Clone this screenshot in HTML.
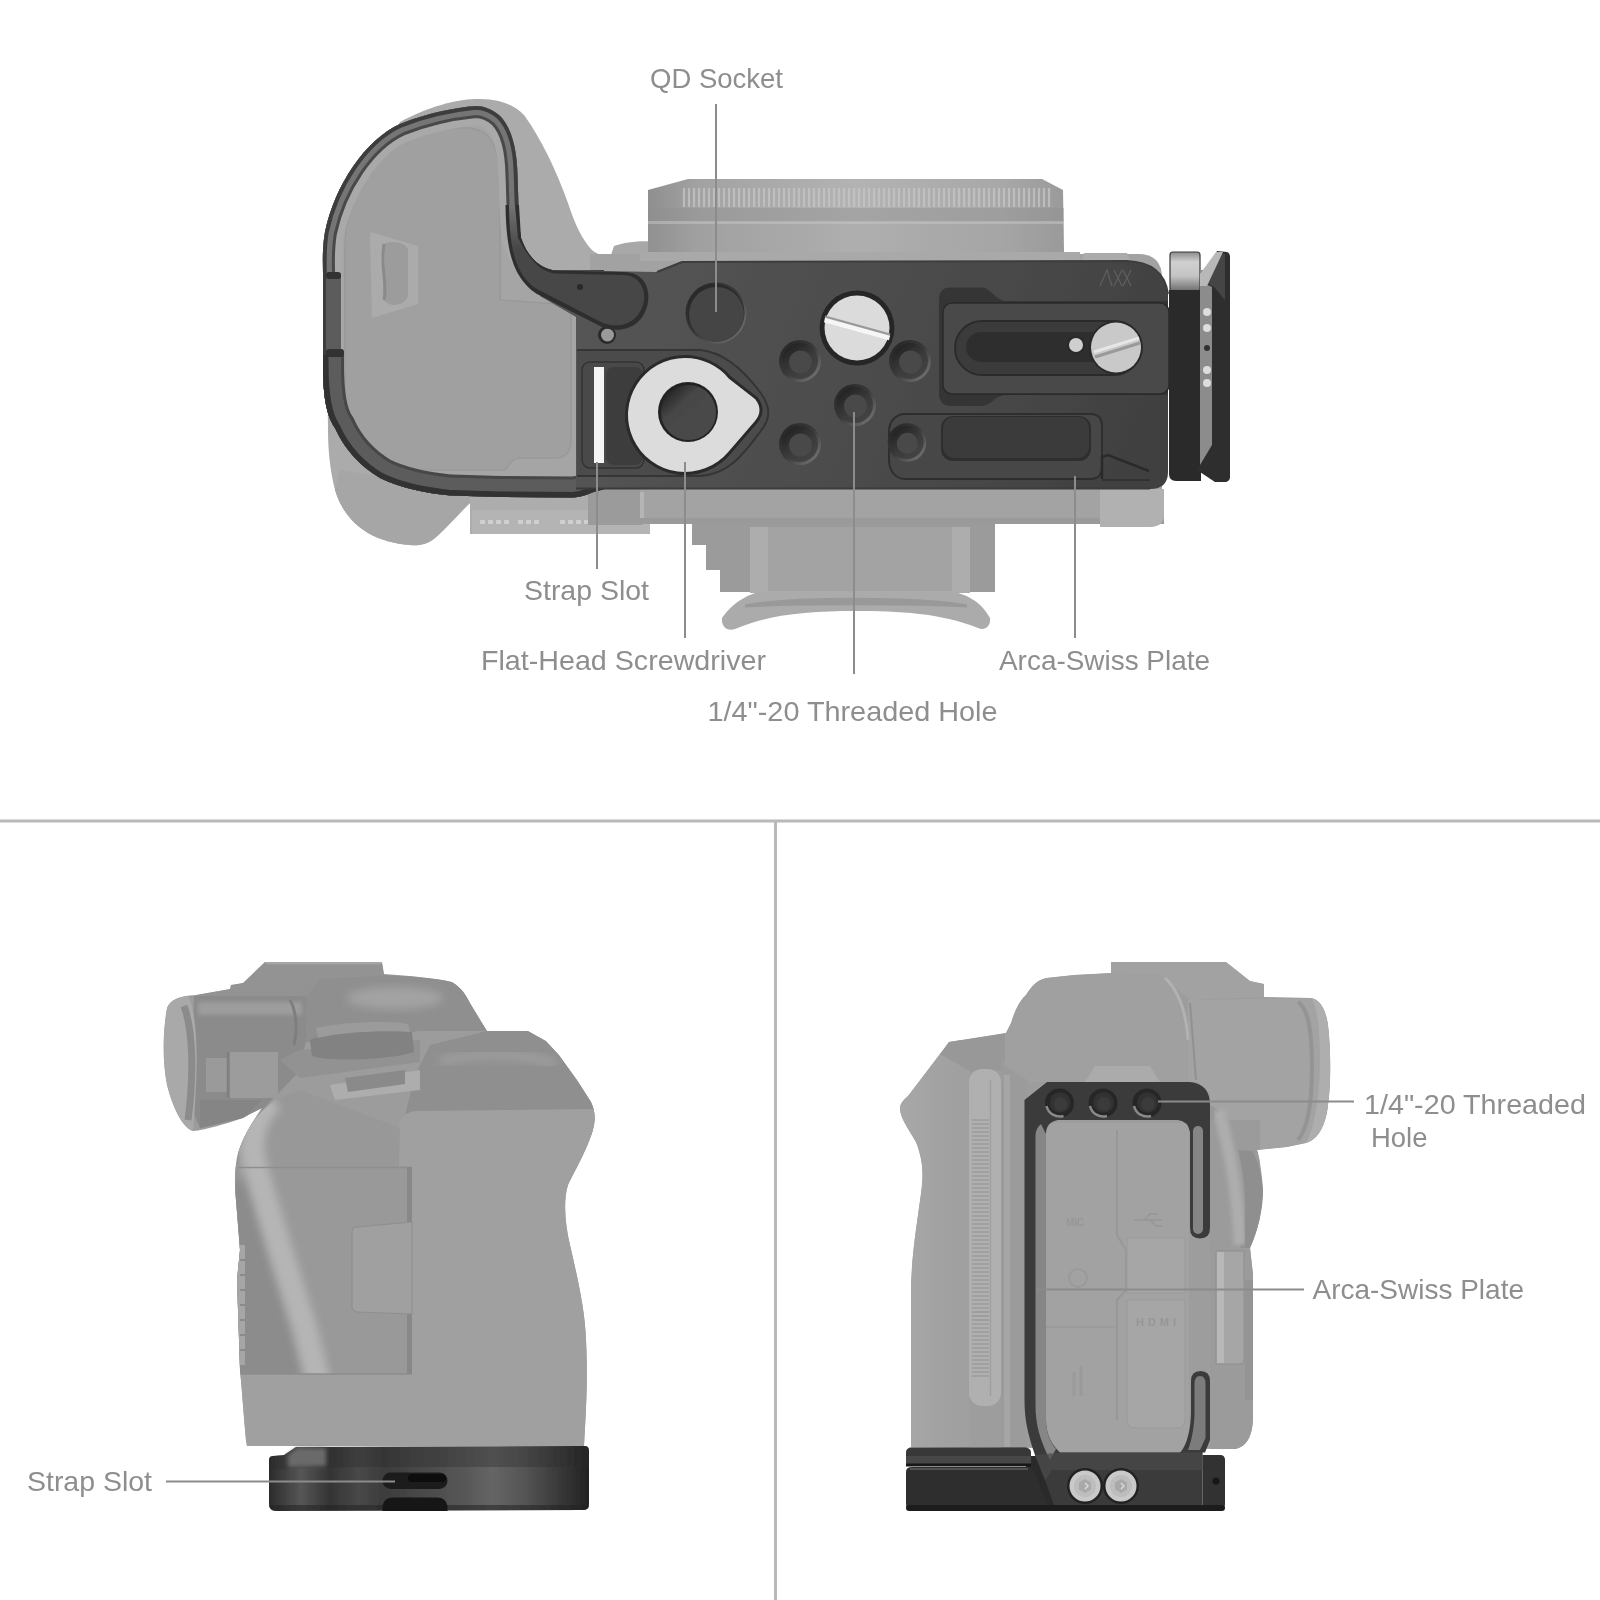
<!DOCTYPE html>
<html lang="en">
<head>
<meta charset="utf-8">
<title>L-Bracket Features</title>
<style>
html,body{margin:0;padding:0;background:#fff}
body{width:1600px;height:1600px;overflow:hidden;position:relative}
svg{display:block;position:absolute;left:0;top:0}
text{font-family:"Liberation Sans",sans-serif;font-size:28px;fill:#8e8e8e}
.ln{stroke:#8c8c8c;stroke-width:2;fill:none}
</style>
</head>
<body>
<svg width="1600" height="1600" viewBox="0 0 1600 1600">
<defs>
<linearGradient id="gLens" x1="0" x2="1" y1="0" y2="0">
<stop offset="0" stop-color="#8f8f8f"/><stop offset="0.12" stop-color="#a2a2a2"/><stop offset="0.5" stop-color="#b3b3b3"/><stop offset="0.85" stop-color="#a8a8a8"/><stop offset="1" stop-color="#9a9a9a"/>
</linearGradient>
<linearGradient id="gPlate" x1="576" x2="1168" y1="261" y2="489" gradientUnits="userSpaceOnUse">
<stop offset="0" stop-color="#555"/><stop offset="0.5" stop-color="#4c4c4c"/><stop offset="1" stop-color="#3f3f3f"/>
</linearGradient>
<radialGradient id="gHole" cx="0.5" cy="0.42" r="0.6">
<stop offset="0" stop-color="#3a3a3a"/><stop offset="0.6" stop-color="#333"/><stop offset="1" stop-color="#222"/>
</radialGradient>
<linearGradient id="gRim" x1="0.15" y1="0.15" x2="0.85" y2="0.85"><stop offset="0" stop-color="#2a2a2a"/><stop offset="0.5" stop-color="#3a3a3a"/><stop offset="1" stop-color="#6c6c6c"/></linearGradient>
<linearGradient id="gCone" x1="0.2" y1="0.1" x2="0.8" y2="0.9"><stop offset="0" stop-color="#242424"/><stop offset="0.55" stop-color="#3a3a3a"/><stop offset="1" stop-color="#444"/></linearGradient>
<linearGradient id="gWh" x1="0.1" y1="0.05" x2="0.7" y2="0.7"><stop offset="0" stop-color="#1e1e1e"/><stop offset="0.45" stop-color="#464646"/><stop offset="1" stop-color="#4a4a4a"/></linearGradient>
<linearGradient id="gSilv" x1="0" y1="0" x2="0" y2="1"><stop offset="0" stop-color="#8c8c8c"/><stop offset="0.25" stop-color="#d0d0d0"/><stop offset="0.6" stop-color="#c4c4c4"/><stop offset="0.85" stop-color="#8a8a8a"/><stop offset="1" stop-color="#6a6a6a"/></linearGradient>
<linearGradient id="gLever" x1="0" y1="205" x2="0" y2="250" gradientUnits="userSpaceOnUse"><stop offset="0" stop-color="#747474"/><stop offset="1" stop-color="#464646"/></linearGradient>
<filter id="soft" x="-5%" y="-5%" width="110%" height="110%"><feGaussianBlur stdDeviation="0.7"/></filter>
<filter id="b2" x="-20%" y="-20%" width="140%" height="140%"><feGaussianBlur stdDeviation="2"/></filter>
<filter id="b4" x="-20%" y="-20%" width="140%" height="140%"><feGaussianBlur stdDeviation="4"/></filter>
<clipPath id="cRing"><path id="pRing" d="M475,106 C455,108 430,112 400,124 C365,140 335,185 325,232 C322,250 323,262 323,275 L323,365 C323,395 326,415 335,428 C345,450 360,466 380,478 C400,488 425,493 451,495.6 L500,497 L573,497.5 C585,497 592,491 604,489.5 L604,270 L554,270.5 C540,268 528,258 521,238 C518.5,225 518.5,200 517.5,175 C517,150 512,128 500,116 C492,109 484,106 475,106 Z"/></clipPath>
</defs>

<!-- ================= DIVIDERS ================= -->
<rect x="0" y="819.5" width="1600" height="3" fill="#b9b9b9"/>
<rect x="774" y="821" width="3" height="779" fill="#b9b9b9"/>

<!-- ================= TOP VIEW ================= -->
<g id="topview" filter="url(#soft)">
<!-- camera grip behind -->
<path d="M400,122 C430,106 455,100 475,99 C500,98 514,105 524,115 C542,140 556,170 568,203 C574,222 582,240 592,250 C598,255 605,257 615,256 L640,256 L640,500 L650,500 L650,534 L472,534 L470,503 C460,512 450,525 435,538 C428,544 420,546 410,545 C395,544 380,540 368,533 C350,522 340,507 335,490 C330,470 328,450 328,430 L326,250 Z" fill="#ababab"/>
<path d="M335,490 C340,507 350,522 368,533 C380,540 395,544 410,545 C420,546 428,544 435,538 C450,525 460,512 470,503 L470,490 L340,470 Z" fill="#a6a6a6"/>
<!-- rear dial bits -->
<rect x="470" y="494" width="180" height="40" fill="#adadad"/>
<rect x="472" y="510" width="178" height="24" fill="#b4b4b4"/>
<path d="M480,522h30m8,0h22m20,0h30m8,0h22" stroke="#cfcfcf" stroke-width="4" stroke-dasharray="5 3"/>
<!-- top bump (mode dial) -->
<path d="M610,258 L614,246 C630,240 655,240 672,244 L676,258 Z" fill="#a8a8a8"/>
<!-- camera body -->
<path d="M590,254 H1138 Q1162,254 1162,278 V524 H590 Z" fill="#a2a2a2"/>
<rect x="588" y="489" width="54" height="36" fill="#9b9b9b"/>
<rect x="640" y="489" width="524" height="35" fill="#a3a3a3"/>
<rect x="640" y="492" width="4" height="30" fill="#b5b5b5"/>
<rect x="640" y="518" width="524" height="6" fill="#9a9a9a"/>
<!-- body right-bottom bits -->
<path d="M1100,489 L1164,489 L1164,515 C1164,522 1160,527 1150,527 L1100,527 Z" fill="#b1b1b1"/>
<path d="M1082,261 L1084,253 L1127,253 L1130,261 Z" fill="#ababab"/>
<!-- lens -->
<path d="M648,252 L648,190 L688,179 L1042,179 L1063,190 L1064,252 Z" fill="url(#gLens)"/>
<rect x="648" y="208" width="416" height="14" fill="#8e8e8e" opacity="0.4"/>
<rect x="648" y="221" width="416" height="3" fill="#c0c0c0" opacity="0.6"/><rect x="648" y="224" width="416" height="28" fill="#999" opacity="0.18"/>
<g stroke="#c6c6c6" stroke-width="2.2" opacity="0.75"><path id="kn" d="M684,188V207M689,188V207M694,188V207M699,188V207M704,188V207M709,188V207M714,188V207M719,188V207M724,188V207M729,188V207M734,188V207M739,188V207M744,188V207M749,188V207M754,188V207M759,188V207M764,188V207M769,188V207M774,188V207M779,188V207"/>
<use href="#kn" x="100"/><use href="#kn" x="200"/><use href="#kn" x="270"/></g>
<rect x="640" y="252" width="440" height="9" fill="#a9a9a9"/>
<!-- viewfinder housing + eyecup -->
<path d="M692,524 L692,545 L706,545 L706,570 L720,570 L720,592 L995,592 L995,524 Z" fill="#9b9b9b"/>
<rect x="750" y="527" width="220" height="66" fill="#a3a3a3"/>
<rect x="750" y="527" width="18" height="66" fill="#adadad"/>
<rect x="952" y="527" width="18" height="66" fill="#adadad"/>
<path d="M722,618 C735,600 750,594 762,591 L950,591 C965,594 980,600 990,618 C991,626 985,631 978,628 C940,613 900,611 855,611 C810,611 770,614 735,629 C727,632 721,626 722,618 Z" fill="#ababab"/>
<path d="M745,606 C790,597 920,597 967,606 C920,603 790,603 745,606 Z" fill="#999" stroke="#999" stroke-width="3"/>

<!-- ring + battery door -->
<use href="#pRing" fill="#a5a5a5"/>
<g clip-path="url(#cRing)">
<!-- door details -->
<path d="M345,250 C345,180 380,132 450,128 L470,128 C492,130 500,150 500,180 L500,300 L571,305 L571,440 C571,452 565,458 555,458 L520,458 C512,458 510,464 505,470 L380,470 C355,465 345,440 345,410 Z" fill="#a0a0a0" stroke="#999" stroke-width="1.5"/>
<path d="M370,232 L418,246 L418,304 L372,318 Z" fill="#ababab"/>
<path d="M384,244 C392,240 406,242 408,250 L408,296 C404,306 390,308 384,300 C380,285 388,270 384,244 Z" fill="#9c9c9c"/>
<path d="M384,244 C380,270 388,285 384,300" stroke="#8a8a8a" stroke-width="3" fill="none"/>
<use href="#pRing" fill="none" stroke="#a9a9a9" stroke-width="38"/><use href="#pRing" fill="none" stroke="#484848" stroke-width="24"/><use href="#pRing" fill="none" stroke="#747474" stroke-width="18"/>
<use href="#pRing" fill="none" stroke="#3c3c3c" stroke-width="7.5"/>
<path d="M323,355 L323,365 C323,395 326,415 335,428 C345,450 360,466 380,478 C400,488 425,493 451,495.6 L500,497 L573,497.5 C585,497 592,491 604,489.5" fill="none" stroke="#474747" stroke-width="42"/>
<path d="M323,355 L323,365 C323,395 326,415 335,428 C345,450 360,466 380,478 C400,488 425,493 451,495.6 L500,497 L573,497.5 C585,497 592,491 604,489.5" fill="none" stroke="#5b5b5b" stroke-width="36"/>
<path d="M323,355 L323,365 C323,395 326,415 335,428 C345,450 360,466 380,478 C400,488 425,493 451,495.6 L500,497 L573,497.5 C585,497 592,491 604,489.5" fill="none" stroke="#303030" stroke-width="11"/>
<rect x="326" y="276" width="15" height="76" fill="#5c5c5c"/>
<rect x="326" y="272" width="15" height="7" rx="3" fill="#303030"/><rect x="326" y="349" width="18" height="8" rx="3" fill="#303030"/>
</g>

<!-- plate -->
<path d="M548,270 L657,272 L682,262 L1127,261 C1150,262 1165,272 1168,294 L1168,472 Q1168,489 1150,489 L576,489 L576,317 L540,296 Z" fill="url(#gPlate)"/>
<path d="M657,272 L682,262 L1127,261 C1150,262 1165,272 1168,294" stroke="#3e3e3e" stroke-width="2" fill="none"/>
<path d="M576,488.5 H1150" stroke="#3a3a3a" stroke-width="2"/>
<!-- washer pocket -->
<path d="M577,350 L700,350 C725,352 745,372 760,392 C772,408 770,420 760,432 C745,452 730,474 700,476 L577,476" fill="#4c4c4c" stroke="#343434" stroke-width="2"/>
<!-- strap slot + recess -->
<rect x="582" y="362" width="62" height="106" rx="8" fill="#484848" stroke="#333" stroke-width="1.5"/>
<rect x="594" y="367" width="10" height="96" fill="#f4f4f4"/>
<rect x="606" y="367" width="37" height="98" rx="8" fill="#3d3d3d"/>
<!-- pin -->
<circle cx="607" cy="335" r="9" fill="#2a2a2a"/><circle cx="607.5" cy="335" r="6.5" fill="#9a9a9a"/>
<!-- lever -->
<path d="M505.5,205 C506,240 510,262 520,277 C526,286 532,291 537,294 L600,326 C612,332 628,331 638,322 C650,310 652,290 642,279 C636,273 630,272 622,272 L554,270.5 C540,268 528,258 521,238 L519,205 Z" fill="#2e2e2e"/>
<path d="M509,205 C509.5,240 513,260 522,274 C528,283 533,287 539,290 L601,322 C612,327 626,327 635,318 C646,307 647,291 639,282 C634,276 628,275 621,275 L554,273.5 C541,271 530,261 518,238 L515,205 Z" fill="url(#gLever)"/>
<circle cx="580" cy="287" r="3" fill="#2a2a2a"/>
<!-- QD socket -->
<circle cx="716" cy="313" r="30.5" fill="url(#gRim)"/><circle cx="716" cy="313" r="28.5" fill="#2c2c2c"/><circle cx="716.5" cy="314.5" r="27.5" fill="#454545"/>
<!-- big screw -->
<circle cx="857" cy="328" r="37.5" fill="#262626"/><circle cx="857" cy="328" r="32.5" fill="#dbdbdb"/>

<path d="M825,317 L890,335" stroke="#9a9a9a" stroke-width="3"/><path d="M824.5,320 L889.5,338" stroke="#f6f6f6" stroke-width="4.6"/>
<!-- small holes -->
<defs>
<g id="hole"><circle cx="0" cy="0" r="21" fill="url(#gRim)"/><circle cx="0" cy="0" r="18" fill="url(#gCone)"/><circle cx="0.5" cy="1" r="11.5" fill="#484848"/></g>
</defs>
<use href="#hole" x="800" y="361"/><use href="#hole" x="910" y="361"/><use href="#hole" x="855" y="405"/><use href="#hole" x="800" y="444"/>
<!-- washer -->
<path d="M685,358 A57,57 0 1 0 728.7,451.6 L755,421 Q764,410 755,399 L728.7,378.4 A57,57 0 0 0 685,358 Z" fill="#dcdcdc" stroke="#2a2a2a" stroke-width="6" paint-order="stroke" stroke-linejoin="round"/>
<circle cx="688" cy="412" r="30" fill="#242424"/><circle cx="688.5" cy="412.5" r="27.5" fill="url(#gWh)"/>

<!-- upper inset (arca slider) -->
<path d="M950,287.5 L982,287.5 C990,288 994,298 1004,301 L1168,301 L1168,395 L1004,395 C994,397 990,406 982,406 L950,406 C943,406 939,401 939,394 L939,299 C939,292 943,287.5 950,287.5 Z" fill="#353535"/>
<rect x="943" y="303" width="226" height="91" rx="9" fill="#494949"/>
<rect x="943" y="303" width="226" height="91" rx="9" fill="none" stroke="#2a2a2a" stroke-width="1.5"/>
<rect x="955" y="321" width="186" height="54" rx="27" fill="#3b3b3b" stroke="#2c2c2c" stroke-width="2"/>
<rect x="966" y="332" width="150" height="30" rx="15" fill="#2f2f2f"/>
<circle cx="1076" cy="345" r="9.5" fill="#2a2a2a"/><circle cx="1076" cy="345" r="7" fill="#cfcfcf"/>
<circle cx="1116" cy="347.5" r="27" fill="#2a2a2a"/><circle cx="1116" cy="347.5" r="25" fill="#c9c9c9"/>
<path d="M1094,352 L1139,338" stroke="#e6e6e6" stroke-width="3"/><path d="M1095,357 L1140,343" stroke="#9a9a9a" stroke-width="3"/>
<!-- lower inset -->
<path d="M905,414 L1090,414 Q1102,414 1102,426 L1102,467 Q1102,479 1090,479 L905,479 C895,479 889,470 889,460 L889,432 C889,422 895,414 905,414 Z" fill="#474747" stroke="#2e2e2e" stroke-width="2"/>
<rect x="941" y="416" width="150" height="45" rx="12" fill="#2d2d2d"/><rect x="943" y="417" width="146" height="41" rx="11" fill="#3a3a3a"/>
<use href="#hole" x="907" y="442.5" transform="translate(907,442.5) scale(0.92) translate(-907,-442.5)"/>
<path d="M1102,479 L1102,457 L1108,455 L1149,471" stroke="#2a2a2a" stroke-width="2.5" fill="none"/>
<path d="M1102,480 H1150" stroke="#333" stroke-width="2"/>
<!-- mark -->
<path d="M1100,286 L1107,270 L1112,286 M1114,270 L1122,286 M1122,270 L1114,286 M1123,270 L1131,286 M1131,270 L1123,286" stroke="#5e5e5e" stroke-width="1.3" fill="none"/>

<!-- side bracket -->
<rect x="1170" y="252" width="30" height="40" rx="3" fill="url(#gSilv)" stroke="#3a3a3a" stroke-width="1.2"/>
<path d="M1169,290 L1201,290 L1201,481 L1176,481 Q1169,481 1169,474 Z" fill="#2c2c2c"/>
<rect x="1200" y="270" width="14" height="200" fill="#8c8c8c"/>
<circle cx="1207" cy="312" r="4" fill="#ddd"/><circle cx="1207" cy="328" r="4" fill="#ddd"/><circle cx="1207" cy="348" r="3" fill="#333"/><circle cx="1207" cy="370" r="4" fill="#ddd"/><circle cx="1207" cy="383" r="4" fill="#ddd"/>
<path d="M1217,251 L1227,252 Q1230,253 1230,257 L1230,477 Q1230,481 1226,482 L1215,482 L1197,470 L1212,445 L1212,287 L1201,282 Z" fill="#2e2e2e"/>
<path d="M1217,253 L1225,254 L1225,300 L1214,287 L1203,281 Z" fill="#454545"/>
<path d="M1216,252 L1223,252 L1207,286 L1200,286 L1200,274 Z" fill="#b8b8b8"/>
<!--TOPVIEW-->
</g>

<!-- ================= BOTTOM LEFT ================= -->
<g id="bl" filter="url(#soft)">
<defs>
<linearGradient id="gBLplate" x1="269" x2="589" y1="0" y2="0" gradientUnits="userSpaceOnUse">
<stop offset="0" stop-color="#2b2b2b"/><stop offset="0.1" stop-color="#565656"/><stop offset="0.19" stop-color="#343434"/><stop offset="0.28" stop-color="#484848"/><stop offset="0.36" stop-color="#3c3c3c"/><stop offset="0.62" stop-color="#585858"/><stop offset="0.7" stop-color="#656565"/><stop offset="0.8" stop-color="#545454"/><stop offset="0.93" stop-color="#333"/><stop offset="1" stop-color="#222"/>
</linearGradient>
<linearGradient id="gBLbody" x1="234" x2="420" y1="0" y2="0" gradientUnits="userSpaceOnUse">
<stop offset="0" stop-color="#8c8c8c"/><stop offset="0.1" stop-color="#9d9d9d"/><stop offset="0.2" stop-color="#b1b1b1"/><stop offset="0.3" stop-color="#a6a6a6"/><stop offset="0.5" stop-color="#999"/><stop offset="1" stop-color="#979797"/>
</linearGradient>
<clipPath id="cBL"><path id="pBL" d="M265,962 L382,962 L384,974 C410,976 435,978 452,982 C462,988 466,995 470,1003 L487,1031 L528,1031 L546,1041 L559,1055 L577,1080 L591,1102 Q596,1112 594,1125 C590,1145 575,1170 568,1185 C563,1200 565,1225 570,1245 C578,1280 585,1310 586,1340 C588,1380 586,1410 584,1446 L247,1446 L246,1440 C244,1420 242,1390 240,1370 L237,1280 L240,1250 L236,1200 C234,1180 235,1165 238,1153 C242,1140 250,1125 262,1108 L250,1114 L243,1118 C225,1124 205,1130 193,1131 C182,1128 172,1105 167,1085 C162,1060 163,1030 167,1008 C170,1000 178,996 196,995 L230,989 L231,985 L243,983 Z"/></clipPath>
</defs>
<use href="#pBL" fill="#9c9c9c"/>
<g clip-path="url(#cBL)">
<!-- viewfinder block -->
<path d="M243,983 L265,962 L382,962 L384,975 L320,979 L306,996 L196,996 L196,995 L230,989 L231,985 Z" fill="#939393"/>
<path d="M266,963 H382" stroke="#a6a6a6" stroke-width="2.5"/>
<path d="M306,996 L320,979 L384,975 C410,976 435,978 452,982 C462,988 466,995 470,1003 L487,1031 L420,1031 L330,1042 L306,1042 Z" fill="#8f8f8f"/>
<ellipse cx="395" cy="998" rx="48" ry="11" fill="#a3a3a3" filter="url(#b4)"/>
<path d="M194,996 L306,996 L306,1042 L296,1075 L262,1110 L243,1118 L200,1128 L192,1110 Z" fill="#8b8b8b"/>
<rect x="198" y="1002" width="104" height="13" fill="#9d9d9d" filter="url(#b2)"/>
<path d="M290,1000 C296,1010 298,1030 294,1045" stroke="#7e7e7e" stroke-width="3" fill="none"/>
<path d="M167,1008 C170,1000 178,996 188,996 C196,1010 198,1050 196,1085 C195,1105 194,1120 193,1131 C182,1128 172,1105 167,1085 C162,1060 163,1030 167,1008 Z" fill="#a9a9a9"/>
<path d="M184,1006 C193,1030 194,1075 188,1120" stroke="#8b8b8b" stroke-width="7" fill="none"/>
<path d="M206,1058 h22 v34 h-22 z" fill="#9a9a9a"/><path d="M230,1052 h48 v46 h-48 z" fill="#9c9c9c"/><path d="M228,1052 v46" stroke="#808080" stroke-width="2.5"/>
<path d="M200,1100 L262,1100 L243,1118 L200,1128 Z" fill="#858585"/>
<!-- top dial -->
<path d="M280,1060 L300,1050 L420,1040 L420,1062 L300,1078 Z" fill="#929292"/>
<path d="M310,1040 C330,1030 390,1026 412,1032 L414,1052 C390,1060 330,1062 312,1056 Z" fill="#828282"/>
<path d="M316,1028 C340,1022 390,1020 408,1024 L410,1032 C385,1030 340,1032 318,1038 Z" fill="#9b9b9b"/>
<!-- grip top -->
<path d="M415,1075 L430,1045 L487,1031 L528,1031 L546,1041 L559,1055 L577,1080 L600,1112 L600,1135 L400,1135 Z" fill="#8f8f8f"/>
<path d="M440,1062 C470,1052 520,1052 555,1064" stroke="#9e9e9e" stroke-width="9" fill="none" filter="url(#b4)"/>
<path d="M330,1085 L420,1070 L420,1090 L335,1100 Z" fill="#adadad"/>
<path d="M345,1078 L405,1070 L405,1084 L348,1092 Z" fill="#8a8a8a"/>
<!-- textured grip -->
<path d="M398,1165 L398,1130 C399,1118 405,1112 416,1111 L600,1109 L600,1460 L230,1460 L230,1374 L412,1374 L412,1167 Z" fill="#a0a0a0"/>
<!-- smooth part -->
<path d="M230,1167 L412,1167 L412,1374 L230,1374 Z" fill="#999"/>
<path d="M236,1167 C238,1140 250,1120 275,1100 L300,1090 L400,1128 L399,1167 Z" fill="#989898"/>
<clipPath id="cSm"><path d="M236,1167 C238,1140 250,1120 275,1100 L300,1090 L400,1128 L412,1167 L412,1374 L230,1374 Z"/></clipPath>
<g clip-path="url(#cSm)"><path d="M225,1180 L248,1180 L270,1260 L294,1340 L304,1380 L225,1380 Z" fill="#8c8c8c" filter="url(#b4)"/>
<path d="M272,1100 C252,1120 248,1145 257,1172 L281,1252 L305,1328 L319,1384" stroke="#b5b5b5" stroke-width="24" fill="none" filter="url(#b4)"/></g>
<path d="M238,1167.5 H412" stroke="#8e8e8e" stroke-width="1.5"/>
<path d="M409.5,1167 V1374" stroke="#888" stroke-width="5"/>
<path d="M230,1374 H412" stroke="#8d8d8d" stroke-width="1.5"/>
<path d="M352,1232 Q352,1227 358,1227 L412,1222 L412,1314 L358,1312 Q352,1312 352,1306 Z" fill="#a0a0a0" stroke="#8f8f8f" stroke-width="1.2"/>
<!-- left edge bits -->
<rect x="236" y="1245" width="9" height="120" fill="#a6a6a6"/>
<path d="M240,1260h5M240,1275h5M240,1290h5M240,1305h5M240,1320h5M240,1335h5M240,1350h5" stroke="#8a8a8a" stroke-width="2"/>
</g>
<!-- plate -->
<path id="pBLp" d="M269,1460 Q269,1456 273,1456 L284,1455 L296,1447 L585,1446 Q589,1446 589,1451 L589,1504 Q589,1510 583,1510 L276,1511 Q269,1511 269,1504 Z" fill="url(#gBLplate)"/>
<path d="M296,1447 L585,1446 Q589,1446 589,1451 L589,1467 L350,1467 L269,1470 L269,1460 Q269,1456 273,1456 L284,1455 Z" fill="#2a2a2a" opacity="0.35"/>
<path d="M269,1505 H589 V1506 Q589,1510 583,1510 L276,1511 Q269,1511 269,1504 Z" fill="#222" opacity="0.55"/>
<path d="M288,1455 L297,1448 L326,1448 L326,1466 L288,1467 Z" fill="#6a6a6a" filter="url(#b2)"/>
<rect x="382.5" y="1472.5" width="65" height="16.5" rx="8.2" fill="#1c1c1c"/>
<rect x="408" y="1474" width="38" height="8" rx="4" fill="#0e0e0e"/>
<path d="M382.5,1511 L382.5,1506 Q384,1497.5 393,1497.5 L437,1497.5 Q446,1497.5 447.5,1506 L447.5,1511 Z" fill="#151515"/>
<!--BL-->
</g>

<!-- ================= BOTTOM RIGHT ================= -->
<g id="br" filter="url(#soft)">
<defs>
<clipPath id="cBR"><path id="pBR" d="M1111,962 L1226,962 L1250,981 L1264,984 L1264,997 L1311,998 C1320,999 1326,1010 1328,1025 C1331,1050 1331,1085 1328,1105 C1326,1125 1318,1140 1306,1143 L1287,1147 L1257,1150 C1260,1160 1262,1175 1263,1190 C1263,1210 1258,1230 1250,1248 L1253,1275 L1253,1416 C1253,1435 1247,1447 1235,1449 L911,1447 L911,1295 C911,1260 916,1230 920,1201 C923,1180 925,1165 916,1142 C908,1128 900,1118 900,1108 C900,1104 903,1100 908,1096 L940,1054 L949,1042 L1006,1033 L1011,1023 C1015,1010 1020,1000 1026,995 C1032,985 1038,980 1046,978 L1074,975 L1111,973 Z"/></clipPath>
<linearGradient id="gBRgrip" x1="900" x2="1010" y1="0" y2="0" gradientUnits="userSpaceOnUse">
<stop offset="0" stop-color="#a8a8a8"/><stop offset="0.3" stop-color="#a3a3a3"/><stop offset="1" stop-color="#9b9b9b"/>
</linearGradient>
</defs>
<use href="#pBR" fill="#9d9d9d"/>
<g clip-path="url(#cBR)">
<!-- grip -->
<path d="M890,1120 L950,1040 L970,1040 L970,1460 L890,1460 Z" fill="url(#gBRgrip)"/>
<path d="M940,1054 L949,1042 L1006,1033 L1005,1070 L972,1072 Z" fill="#989898"/>
<!-- lens mount ring -->
<rect x="969" y="1069" width="32" height="337" rx="13" fill="#b0b0b0"/>
<path d="M990.5,1080 V1396" stroke="#a0a0a0" stroke-width="1.5"/>
<g stroke="#9c9c9c" stroke-width="1.3"><path id="rdg" d="M972,1120h17M972,1124h17M972,1128h17M972,1132h17M972,1136h17M972,1140h17M972,1144h17M972,1148h17M972,1152h17M972,1156h17M972,1160h17M972,1164h17M972,1168h17M972,1172h17M972,1176h17M972,1180h17M972,1184h17"/><use href="#rdg" y="68"/><use href="#rdg" y="136"/><use href="#rdg" y="192"/></g>
<rect x="1001" y="1060" width="26" height="400" fill="#9b9b9b"/><rect x="1004" y="1075" width="6" height="375" fill="#a6a6a6"/>
<!-- hump / viewfinder -->
<path d="M1011,1023 C1015,1010 1020,1000 1026,995 C1032,985 1038,980 1046,978 L1074,975 L1111,973 L1160,975 C1175,985 1185,1010 1188,1040 L1188,1082 L1030,1082 L1005,1066 L1005,1032 Z" fill="#a0a0a0"/>
<path d="M1111,962 L1226,962 L1250,981 L1264,984 L1264,997 L1190,1000 L1160,975 L1111,973 Z" fill="#a2a2a2"/>
<path d="M1188,1000 L1311,998 C1320,999 1326,1010 1328,1025 C1331,1050 1331,1085 1328,1105 C1326,1125 1318,1140 1306,1143 L1287,1147 L1257,1150 L1210,1120 L1210,1094 L1198,1082 L1188,1082 Z" fill="#a3a3a3"/>
<path d="M1298,1002 C1308,1008 1312,1030 1312,1068 C1312,1100 1308,1128 1298,1140" stroke="#949494" stroke-width="4" fill="none"/>
<path d="M1311,998 C1320,999 1326,1010 1328,1025 C1331,1050 1331,1085 1328,1105 C1326,1125 1318,1140 1306,1143 C1316,1125 1320,1090 1320,1060 C1320,1030 1317,1005 1311,998 Z" fill="#aeaeae"/>
<path d="M1190,1003 L1196,1080" stroke="#919191" stroke-width="2"/>
<path d="M1165,978 C1178,990 1186,1010 1188,1040" stroke="#b2b2b2" stroke-width="3" fill="none"/>
<!-- top controls bits -->
<path d="M1085,1082 L1095,1066 L1150,1066 L1160,1082 Z" fill="#ababab"/>
<path d="M1210,1105 C1222,1110 1235,1125 1240,1145 L1257,1150 L1210,1130 Z" fill="#989898"/>
<!-- right body + hinge -->
<rect x="1210" y="1120" width="50" height="340" fill="#9b9b9b"/>
<path d="M1252,1151 C1258,1160 1262,1175 1263,1190 C1263,1210 1258,1230 1250,1248 L1240,1248 C1246,1225 1248,1190 1238,1150 Z" fill="#8f8f8f"/>
<path d="M1219,1110 C1226,1140 1236,1170 1240,1245" stroke="#adadad" stroke-width="12" fill="none" filter="url(#b2)"/>
<path d="M1216,1251 L1244,1251 L1244,1360 Q1244,1364 1240,1364 L1216,1364 Z" fill="#a6a6a6" stroke="#8f8f8f" stroke-width="1"/>
<rect x="1217" y="1252" width="7" height="111" fill="#b8b8b8"/>
<rect x="1245" y="1280" width="8" height="120" fill="#949494"/>
<!-- port cover -->
<rect x="1046" y="1123" width="143" height="335" rx="8" fill="#a2a2a2"/>
<path d="M1117,1130 V1235 L1126,1250 V1290 L1117,1300 V1420" stroke="#979797" stroke-width="2" fill="none"/>
<path d="M1046,1327 H1115" stroke="#999" stroke-width="1.5"/>
<path d="M1127,1238 h58 v55 h-58z M1127,1300 h58 v120 q0,8 -8,8 h-42 q-8,0 -8,-8z" fill="#a6a6a6" stroke="#9a9a9a" stroke-width="1"/>
<text x="1066" y="1226" style="font-size:10px;fill:#979797;font-weight:bold">MIC</text>
<text x="1136" y="1326" style="font-size:11px;fill:#969696;font-weight:bold" textLength="40">HDMI</text>
<path d="M1134,1220 h28 m-18,0 l6,-6 h8 m-8,6 l6,6 h6" stroke="#979797" stroke-width="1.6" fill="none"/>
<circle cx="1078" cy="1278" r="9" fill="none" stroke="#9a9a9a" stroke-width="2"/>
<path d="M1074,1372 v24 m7,-30 v30" stroke="#9a9a9a" stroke-width="3"/>
</g>
<!-- bracket -->
<rect x="1040" y="1440" width="160" height="16" fill="#a2a2a2"/>
<path d="M1026,1456 L1040,1456 L1060,1510 L1026,1510 Z" fill="#2b2b2b"/>
<path d="M1024.5,1100 L1047,1082 L1190,1082 Q1210,1084 1210,1105 L1210,1228 Q1210,1238.5 1200,1238.5 Q1190,1238.5 1190,1228 L1190,1132 Q1188,1121 1178,1120 L1058,1120 Q1046,1122 1046,1134 L1046,1420 C1046,1435 1052,1445 1060,1452.5 L1180,1452.5 C1188,1445 1191,1425 1191,1412 L1191,1381 Q1191,1371 1200.5,1371 Q1210,1371 1210,1381 L1210,1440 L1205,1452.5 L1202.5,1452.5 L1202.5,1507.5 L1055,1507.5 L1045,1480 L1035,1455 C1028,1435 1024.5,1420 1024.5,1400 Z" fill="#3b3b3b"/>
<!-- arm bevels -->
<path d="M1035.5,1135 Q1036,1128 1041,1124 L1046,1134 L1046,1420 C1046,1432 1050,1442 1056,1449 L1050,1460 C1040,1440 1035.5,1425 1035.5,1405 Z" fill="#868686"/>
<rect x="1193" y="1126" width="10" height="108" rx="5" fill="#858585"/>
<path d="M1194.5,1384 Q1194.5,1376 1200,1376 Q1205.5,1376 1205.5,1384 L1205.5,1438 L1200,1450 L1188,1450 C1192,1440 1194.5,1425 1194.5,1412 Z" fill="#7c7c7c"/>
<!-- top bar holes -->
<defs><g id="bh"><circle cx="0" cy="0" r="14.5" fill="#262626"/><path d="M-13,3 A13.5,13.5 0 0 0 4,13" stroke="#8a8a8a" stroke-width="2.5" fill="none"/><circle cx="0.5" cy="-0.5" r="10.5" fill="#303030"/><circle cx="1" cy="1" r="7" fill="#3a3a3a"/></g></defs>
<use href="#bh" x="1059.5" y="1103"/><use href="#bh" x="1103" y="1103"/><use href="#bh" x="1147" y="1103"/>
<!-- bottom block shading -->
<path d="M1060,1452.5 L1180,1452.5 L1198,1452.5 L1202.5,1452.5 L1202.5,1470 L1052,1470 L1045,1480 L1035,1455 Z" fill="#4a4a4a" opacity="0.7"/>
<!-- base plate left block -->
<path d="M906,1453 Q906,1447.5 912,1447.5 L1024,1447.5 Q1031,1447.5 1031,1453 L1031,1465 L906,1465 Z" fill="#474747"/>
<path d="M912,1447.5 L1024,1447.5 Q1031,1447.5 1031,1453 L1031,1456 L906,1456 L906,1453 Q906,1447.5 912,1447.5 Z" fill="#2e2e2e" opacity="0.6"/>
<rect x="906" y="1463.5" width="125" height="3" fill="#161616"/>
<path d="M906,1472 Q906,1467 912,1467 L1026,1467 Q1032,1467 1034,1472 L1050,1511 L912,1511 Q906,1511 906,1504 Z" fill="#2f2f2f"/>
<path d="M910,1469 H1028" stroke="#5a5a5a" stroke-width="2" opacity="0.8"/>
<!-- right small block -->
<path d="M1202.5,1455 L1220,1455 Q1225,1455 1225,1460 L1225,1504 Q1225,1510 1219,1510 L1202.5,1510 Z" fill="#303030"/>
<circle cx="1216" cy="1481" r="3.5" fill="#161616"/>
<rect x="906" y="1505" width="319" height="6" rx="3" fill="#1f1f1f"/>
<!-- screws -->
<defs><g id="scr"><circle r="18" fill="#242424"/><circle r="15.5" fill="#c9c9c9"/><circle r="11" fill="#bdbdbd"/><path d="M-6,-3.5 L0,-7 L6,-3.5 L6,3.5 L0,7 L-6,3.5 Z" fill="#a9a9a9"/><path d="M0,-3 L3,0 L0,3" fill="none" stroke="#d8d8d8" stroke-width="1.5"/></g></defs>
<use href="#scr" x="1085" y="1486"/><use href="#scr" x="1121" y="1486"/>
<!--BR-->
</g>

<!-- ================= LABELS ================= -->
<g id="labels" filter="url(#soft)">
<text x="650" y="88" textLength="133" lengthAdjust="spacingAndGlyphs">QD Socket</text>
<text x="524" y="600" textLength="125" lengthAdjust="spacingAndGlyphs">Strap Slot</text>
<text x="481" y="670" textLength="285" lengthAdjust="spacingAndGlyphs">Flat-Head Screwdriver</text>
<text x="707.5" y="721" textLength="290" lengthAdjust="spacingAndGlyphs">1/4&quot;-20 Threaded Hole</text>
<text x="999" y="670" textLength="211" lengthAdjust="spacingAndGlyphs">Arca-Swiss Plate</text>
<text x="27" y="1491" textLength="125" lengthAdjust="spacingAndGlyphs">Strap Slot</text>
<text x="1364" y="1114" textLength="222" lengthAdjust="spacingAndGlyphs">1/4&quot;-20 Threaded</text>
<text x="1371" y="1147" textLength="56.5" lengthAdjust="spacingAndGlyphs">Hole</text>
<text x="1312.5" y="1299" textLength="211.5" lengthAdjust="spacingAndGlyphs">Arca-Swiss Plate</text>
<path class="ln" d="M716,104 V312"/>
<path class="ln" d="M597,462 V569"/>
<path class="ln" d="M685,462 V638"/>
<path class="ln" d="M854,412 V674"/>
<path class="ln" d="M1075,476 V638"/>
<path class="ln" d="M166,1481.5 H395"/>
<path class="ln" d="M1158,1101.5 H1354"/>
<path class="ln" d="M1036,1289.5 H1304"/>
<!--LABELS-->
</g>
</svg>
</body>
</html>
